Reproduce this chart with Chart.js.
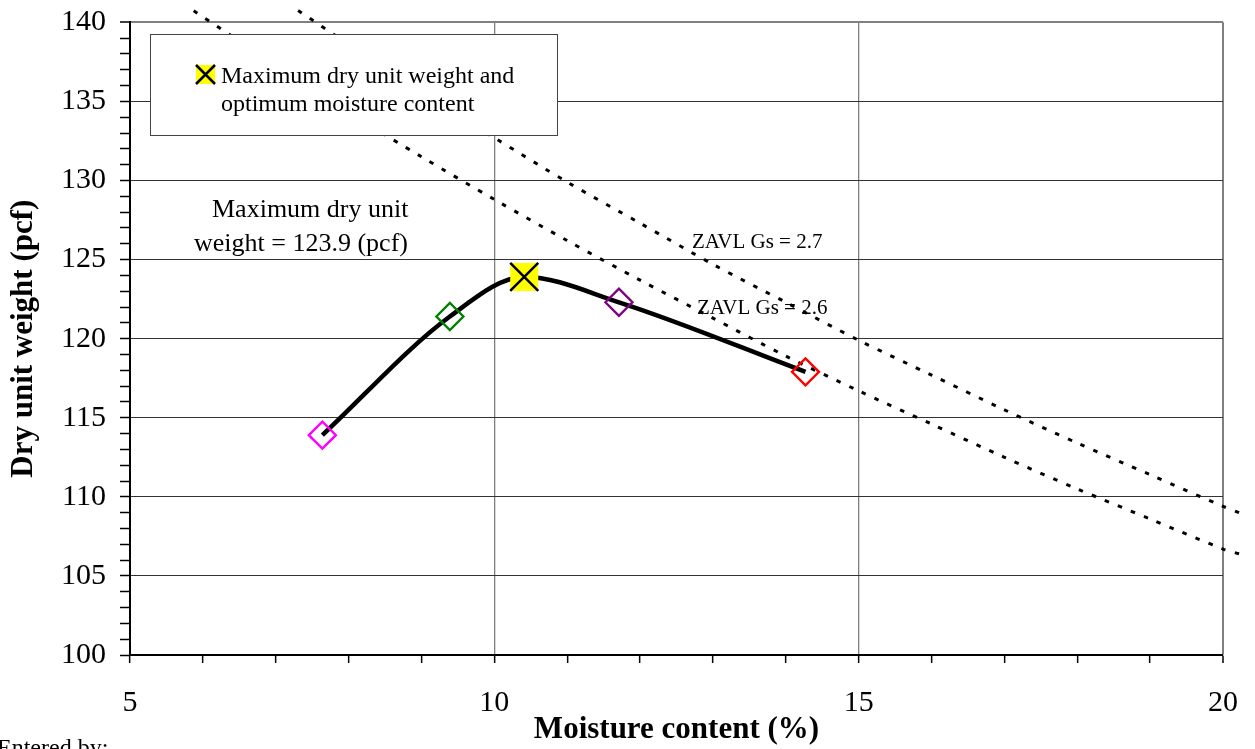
<!DOCTYPE html>
<html>
<head>
<meta charset="utf-8">
<script src="https://cdn.jsdelivr.net/npm/chart.js@4.4.0/dist/chart.umd.min.js"></script>
<style>
html,body{margin:0;padding:0;background:#fff;}
canvas{display:block;}
</style>
</head>
<body>
<canvas id="c" width="1255" height="749"></canvas>
<script>
// ---- data ----
const moisture = [7.64, 9.39, 10.41, 11.71, 14.27];
const dryWeight = [113.9, 121.4, 123.9, 122.3, 117.9];
const markerMoisture = [7.64, 9.39, 11.71, 14.27];
const markerWeight = [113.9, 121.4, 122.3, 117.9];
const markerColors = ['#FF00FF', '#008000', '#800080', '#FF0000'];
const maxMoisture = [10.41];
const maxWeight = [123.9];
const zavl26X = [5.85, 7, 8, 9, 10, 11, 12, 13, 14, 15, 16, 17, 18, 19, 20, 20.22];
const zavl26Y = [140.8, 137.3, 134.3, 131.5, 128.8, 126.2, 123.7, 121.3, 118.9, 116.7, 114.6, 112.5, 110.5, 108.6, 106.7, 106.4];
const zavl27X = [7.29, 8, 9, 10, 11, 12, 13, 14, 15, 16, 17, 18, 19, 20, 20.22];
const zavl27Y = [140.8, 138.6, 135.5, 132.7, 129.9, 127.3, 124.7, 122.3, 119.9, 117.7, 115.5, 113.4, 111.4, 109.4, 109.0];
const xMajorTicks = [5, 10, 15, 20];
const yMajorTicks = [100, 105, 110, 115, 120, 125, 130, 135, 140];

const pts = (xs, ys) => xs.map((x, i) => ({x: x, y: ys[i]}));
// listed from right to left so that the library keeps the part drawn beyond the plot edge
const ptsRev = (xs, ys) => pts(xs, ys).reverse();
const SERIF = "'Times New Roman', 'Liberation Serif', serif";

const overlay = {
  id: 'overlay',
  afterDatasetsDraw(chart) {
    const ctx = chart.ctx;
    ctx.save();
    // legend box
    ctx.fillStyle = '#fff';
    ctx.fillRect(150.5, 34.5, 407, 101);
    ctx.strokeStyle = '#444';
    ctx.lineWidth = 1;
    ctx.strokeRect(150.5, 34.5, 407, 101);
    // legend marker
    ctx.fillStyle = '#FFFF00';
    ctx.fillRect(196, 65, 19, 19);
    ctx.strokeStyle = '#000';
    ctx.lineWidth = 2.5;
    ctx.beginPath();
    ctx.moveTo(196, 65); ctx.lineTo(215, 84);
    ctx.moveTo(215, 65); ctx.lineTo(196, 84);
    ctx.stroke();
    ctx.fillStyle = '#000';
    ctx.textBaseline = 'alphabetic';
    ctx.textAlign = 'left';
    ctx.font = '24px ' + SERIF;
    ctx.fillText('Maximum dry unit weight and', 221, 83);
    ctx.fillText('optimum moisture content', 221, 111);
    // annotation
    ctx.font = '26px ' + SERIF;
    ctx.fillText('Maximum dry unit', 212, 217);
    ctx.fillText('weight = 123.9 (pcf)', 194, 251);
    // ZAVL labels
    ctx.font = '21px ' + SERIF;
    ctx.fillText('ZAVL Gs = 2.7', 692, 248);
    ctx.fillText('ZAVL Gs = 2.6', 697, 314);
    // footer
    ctx.font = '24px ' + SERIF;
    ctx.fillText('Entered by:', -3, 755);
    ctx.restore();
  }
};

new Chart(document.getElementById('c'), {
  type: 'scatter',
  data: {
    datasets: [
      {
        label: 'markers',
        data: pts(markerMoisture, markerWeight),
        pointStyle: 'rectRot',
        pointRadius: 13.5,
        pointBorderWidth: 2.4,
        pointBorderColor: markerColors,
        pointBackgroundColor: 'rgba(0,0,0,0)',
        showLine: false,
        order: 1
      },
      {
        label: 'maxX',
        data: pts(maxMoisture, maxWeight),
        pointStyle: 'crossRot',
        pointRadius: 19.8,
        pointBorderWidth: 2.5,
        pointBorderColor: '#000',
        showLine: false,
        order: 0
      },
      {
        label: 'maxSq',
        data: pts(maxMoisture, maxWeight),
        pointStyle: 'rect',
        pointRadius: 19.8,
        pointBorderWidth: 0,
        pointBackgroundColor: '#FFFF00',
        pointBorderColor: '#FFFF00',
        showLine: false,
        order: 0.5
      },
      {
        label: 'curve',
        data: pts(moisture, dryWeight),
        showLine: true,
        borderColor: '#000',
        borderWidth: 4.5,
        cubicInterpolationMode: 'monotone',
        pointRadius: 0,
        order: 2
      },
      {
        label: 'ZAVL 2.6',
        data: ptsRev(zavl26X, zavl26Y),
        showLine: true,
        borderColor: '#000',
        borderWidth: 3,
        borderDash: [4.5, 9.5],
        tension: 0.3,
        pointRadius: 0,
        clip: false,
        order: 3
      },
      {
        label: 'ZAVL 2.7',
        data: ptsRev(zavl27X, zavl27Y),
        showLine: true,
        borderColor: '#000',
        borderWidth: 3,
        borderDash: [4.5, 9.5],
        tension: 0.3,
        pointRadius: 0,
        clip: false,
        order: 3
      }
    ]
  },
  options: {
    responsive: false,
    animation: false,
    events: [],
    layout: {padding: {left: 0, right: 32, top: 21, bottom: 0}},
    plugins: {legend: {display: false}, tooltip: {enabled: false}},
    scales: {
      x: {
        type: 'linear',
        min: 5, max: 20,
        afterFit(s) { s.height = 94; s.paddingLeft = 0; s.paddingRight = 0; },
        ticks: {
          stepSize: 1,
          autoSkip: false,
          maxRotation: 0,
          padding: 22,
          color: '#000',
          font: {family: SERIF, size: 30},
          callback: v => xMajorTicks.includes(v) ? String(v) : ''
        },
        grid: {
          color: c => (c.tick && c.tick.value % 5 === 0 && c.tick.value !== 5) ? '#808080' : 'rgba(0,0,0,0)',
          lineWidth: c => (c.tick && c.tick.value === 20) ? 2 : 1.3,
          tickColor: '#000',
          tickLength: 8,
          tickWidth: 1.5
        },
        border: {display: true, color: '#000', width: 2},
        title: {
          display: true,
          text: 'Moisture content (%)',
          color: '#000',
          font: {family: SERIF, size: 31, weight: 'bold', lineHeight: 1.2},
          padding: {top: 0, bottom: 0}
        }
      },
      y: {
        type: 'linear',
        min: 100, max: 140,
        afterFit(s) { s.width = 130; s.paddingTop = 0; s.paddingBottom = 0; },
        ticks: {
          stepSize: 1,
          autoSkip: false,
          padding: 14,
          color: '#000',
          font: {family: SERIF, size: 30},
          callback: v => yMajorTicks.includes(v) ? String(v) : ''
        },
        grid: {
          color: c => {
            if (!c.tick) return 'rgba(0,0,0,0)';
            const v = c.tick.value;
            if (v === 100) return 'rgba(0,0,0,0)';
            if (v === 140) return '#808080';
            return v % 5 === 0 ? '#333' : 'rgba(0,0,0,0)';
          },
          lineWidth: c => (c.tick && c.tick.value === 140) ? 2 : 1,
          tickColor: '#000',
          tickLength: 10,
          tickWidth: 1.5
        },
        border: {display: true, color: '#000', width: 2},
        title: {
          display: true,
          text: 'Dry unit weight (pcf)',
          color: '#000',
          font: {family: SERIF, size: 31, weight: 'bold', lineHeight: 1.2},
          padding: {top: 5, bottom: 0}
        }
      }
    }
  },
  plugins: [overlay]
});
</script>
</body>
</html>
